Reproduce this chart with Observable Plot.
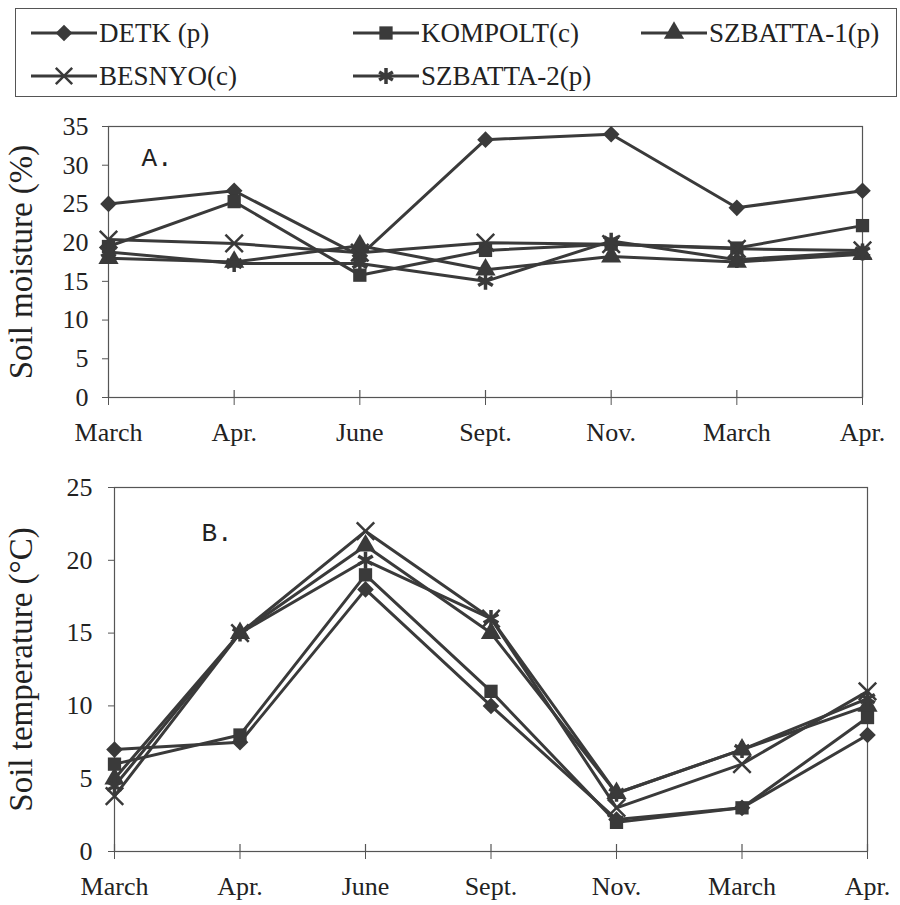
<!DOCTYPE html>
<html><head><meta charset="utf-8">
<script src="https://cdn.jsdelivr.net/npm/d3@7"></script>
<script src="https://cdn.jsdelivr.net/npm/@observablehq/plot@0.6"></script>
<style>
body{margin:0;background:#fff;}
#wrap{position:relative;width:900px;height:905px;font-family:"Liberation Serif",serif;color:#222;overflow:hidden;}
#legend{position:absolute;left:15px;top:8px;width:882px;height:89px;border:1.5px solid #555;box-sizing:border-box;}
.item{position:absolute;display:flex;align-items:center;font-size:27px;height:30px;line-height:30px;}
.item svg{display:block;margin-right:2px;}
#chartA{position:absolute;left:0;top:105px;}
#chartB{position:absolute;left:0;top:460px;}
</style></head><body>
<div id="wrap"><div id="legend"></div><div id="chartA"></div><div id="chartB"></div></div>
<script>
// ---- data ----
const months = ["March", "Apr.", "June", "Sept.", "Nov.", "March", "Apr."];
const series = ["DETK (p)", "KOMPOLT(c)", "SZBATTA-1(p)", "BESNYO(c)", "SZBATTA-2(p)"];
const symbols = ["diamond2", "square", "triangle", "times", "asterisk"];

// A. Soil moisture (%)
const moistDETK     = [25.0, 26.7, 18.3, 33.3, 34.0, 24.5, 26.7];
const moistKOMPOLT  = [19.5, 25.3, 15.8, 19.0, 19.8, 19.3, 22.2];
const moistSZBATTA1 = [18.0, 17.5, 19.6, 16.5, 18.2, 17.5, 18.5];
const moistBESNYO   = [20.4, 19.9, 18.7, 20.0, 19.8, 19.2, 19.0];
const moistSZBATTA2 = [18.8, 17.3, 17.3, 15.0, 20.2, 17.8, 18.8];

// B. Soil temperature (°C)
const tempDETK     = [7.0, 7.5, 18.0, 10.0, 2.2, 3.0, 8.0];
const tempKOMPOLT  = [6.0, 8.0, 19.0, 11.0, 2.0, 3.0, 9.2];
const tempSZBATTA1 = [5.0, 15.0, 21.0, 15.0, 4.0, 7.0, 10.0];
const tempBESNYO   = [3.8, 15.0, 22.0, 16.0, 3.0, 6.0, 11.0];
const tempSZBATTA2 = [4.5, 15.0, 20.0, 16.0, 4.0, 7.0, 10.5];

const yTicksA = [0, 5, 10, 15, 20, 25, 30, 35];
const yTicksB = [0, 5, 10, 15, 20, 25];

// ---- build tables ----
function table(arrs) {
  const out = [];
  arrs.forEach((vals, k) => vals.forEach((v, i) => out.push({i, v, s: series[k]})));
  return out;
}
const dataA = table([moistDETK, moistKOMPOLT, moistSZBATTA1, moistBESNYO, moistSZBATTA2]);
const dataB = table([tempDETK, tempKOMPOLT, tempSZBATTA1, tempBESNYO, tempSZBATTA2]);

const INK = "#3a3a3a";
const filledSet = new Set(["DETK (p)", "KOMPOLT(c)", "SZBATTA-1(p)"]);

function panel(data, o) {
  const frameH = o.height - o.mt - o.mb;
  return Plot.plot({
    width: 900, height: o.height,
    marginLeft: o.ml, marginRight: o.mr, marginTop: o.mt, marginBottom: o.mb,
    style: {fontFamily: "'Liberation Serif', serif", fontSize: "26px", color: "#222", background: "#fff"},
    x: {domain: [0, 6]},
    y: {domain: o.ydomain},
    symbol: {domain: series, range: symbols},
    marks: [
      Plot.frame({stroke: "#555", strokeWidth: 1.2}),
      Plot.axisX({ticks: d3.range(months.length), tickFormat: i => months[i], tickSize: 8, tickPadding: 17, label: null, stroke: "#555"}),
      Plot.tickX(d3.range(months.length), {x: d => d, insetTop: frameH - 7, stroke: "#555", strokeWidth: 1.2}),
      Plot.axisY({ticks: o.yticks, tickSize: 6, tickPadding: o.tp, label: null, stroke: "#555"}),
      Plot.line(data, {x: "i", y: "v", z: "s", stroke: INK, strokeWidth: 3}),
      Plot.dot(data.filter(d => filledSet.has(d.s)), {x: "i", y: "v", symbol: "s", fill: INK, stroke: "none", r: 7.5}),
      Plot.dot(data.filter(d => d.s === "BESNYO(c)"), {x: "i", y: "v", symbol: "s", fill: "none", stroke: INK, strokeWidth: 2.5, r: 8}),
      Plot.dot(data.filter(d => d.s === "SZBATTA-2(p)"), {x: "i", y: "v", symbol: "s", fill: "none", stroke: INK, strokeWidth: 3.5, r: 8}),
      Plot.text([o.tag], {frameAnchor: "top-left", dx: o.tagdx, dy: o.tagdy, textAnchor: "start", lineAnchor: "middle", fontFamily: "'Liberation Mono', monospace", fontSize: 26, fill: "#222"}),
      Plot.text([o.label], {frameAnchor: "left", rotate: -90, dx: -o.lo, textAnchor: "middle", lineAnchor: "top", fontSize: 33, fill: "#222"})
    ]
  });
}

document.getElementById("chartA").append(panel(dataA, {
  height: 355, ml: 108, mr: 38, mt: 21, mb: 63, ydomain: [0, 35], yticks: yTicksA, tp: 14,
  tag: "A.", tagdx: 33, tagdy: 31, label: "Soil moisture (%)", lo: 100
}));
document.getElementById("chartB").append(panel(dataB, {
  height: 445, ml: 114, mr: 33, mt: 27, mb: 54, ydomain: [0, 25], yticks: yTicksB, tp: 16,
  tag: "B.", tagdx: 87, tagdy: 45, label: "Soil temperature (°C)", lo: 106
}));

// ---- legend ----
const legend = document.getElementById("legend");
const pos = [[15, 9], [337, 9], [625, 9], [15, 52], [337, 52]];
const symFn = {diamond2: d3.symbolDiamond2, square: d3.symbolSquare, triangle: d3.symbolTriangle, times: d3.symbolTimes, asterisk: d3.symbolAsterisk};
series.forEach((name, k) => {
  const div = document.createElement("div");
  div.className = "item";
  div.style.left = pos[k][0] + "px";
  div.style.top = pos[k][1] + "px";
  const svg = d3.create("svg").attr("width", 66).attr("height", 24);
  svg.append("line").attr("x1", 0).attr("x2", 66).attr("y1", 12).attr("y2", 12).attr("stroke", INK).attr("stroke-width", 3);
  const filled = filledSet.has(name);
  svg.append("path").attr("transform", "translate(33,12)")
    .attr("d", d3.symbol(symFn[symbols[k]], Math.PI * 7.5 * 7.5)())
    .attr("fill", filled ? INK : "none").attr("stroke", filled ? "none" : INK)
    .attr("stroke-width", symbols[k] === "asterisk" ? 3.5 : 2.5);
  div.append(svg.node());
  const span = document.createElement("span");
  span.textContent = name;
  div.append(span);
  legend.append(div);
});
</script>
</body></html>
